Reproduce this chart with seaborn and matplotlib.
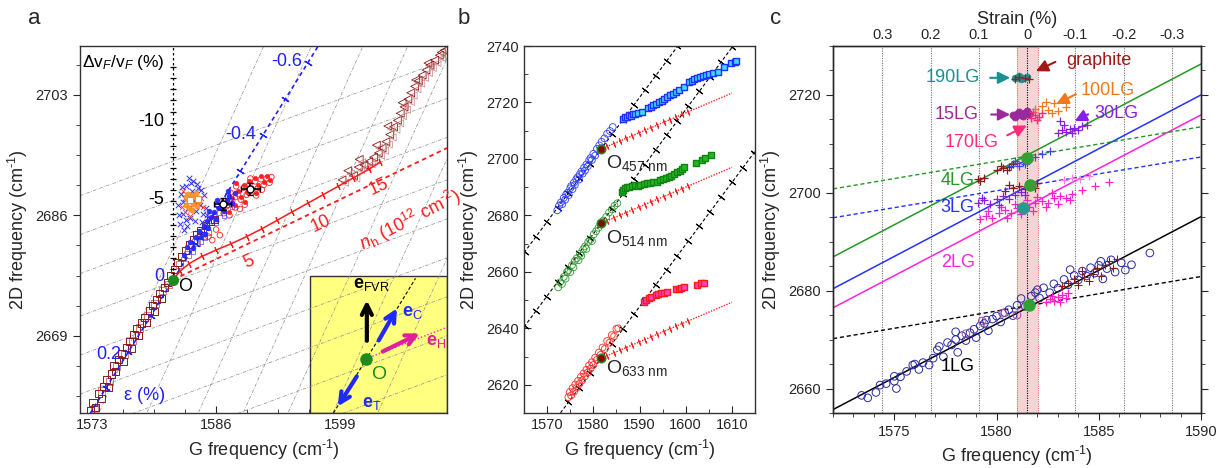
import numpy as np
import matplotlib
matplotlib.use("Agg")
import matplotlib.pyplot as plt
import seaborn as sns
from matplotlib.patches import Rectangle
from matplotlib.ticker import MultipleLocator, AutoMinorLocator, FixedLocator

sns.set_style("ticks")
plt.rcParams['font.family'] = ['Liberation Sans', 'DejaVu Sans']
plt.rcParams['mathtext.fontset'] = 'custom'
plt.rcParams['mathtext.rm'] = 'Liberation Sans'
plt.rcParams['mathtext.it'] = 'Liberation Sans:italic'
plt.rcParams['mathtext.bf'] = 'Liberation Sans:bold'
plt.rcParams['axes.linewidth'] = 1.0
plt.rcParams['axes.unicode_minus'] = False

# ------------------------------------------------------------------ data: panel a
a_origin = (1581.5, 2676.9)
a_sq_dark_G = [1572.8,1573.1,1573.4,1573.7,1574.0,1574.2,1574.5,1574.7,1575.0,1575.3,1575.5,1575.8,1576.1,1576.3,1576.6,1576.9,1577.1,1577.4,1577.7,1577.9,1578.2,1578.5,1578.7,1579.0,1579.3,1579.5,1579.8,1580.1,1580.3,1580.6,1580.9,1581.2,1581.6,1582.0,1582.4,1582.8,1583.2,1583.6,1584.0,1584.4,1584.9,1585.4,1585.8]
a_sq_dark_D = [2658.4,2659.6,2658.9,2660.8,2660.1,2661.9,2662.8,2661.7,2663.6,2664.8,2663.9,2665.6,2666.5,2665.4,2667.3,2668.2,2667.2,2669.2,2670.0,2669.0,2670.8,2671.6,2670.9,2672.6,2673.3,2672.4,2674.1,2675.0,2674.2,2675.8,2676.5,2677.5,2678.4,2679.4,2680.2,2681.0,2681.9,2682.6,2683.3,2683.9,2684.6,2685.2,2685.4]
a_sq_light_G = [1573.3,1574.0,1574.8,1575.6,1576.4,1577.2,1578.0,1578.8,1579.6,1580.4,1581.0,1582.2,1583.0,1583.9,1584.7]
a_sq_light_D = [2658.7,2661.2,2662.6,2664.6,2666.3,2668.3,2670.1,2671.8,2673.6,2675.4,2676.2,2679.0,2680.5,2682.2,2683.2]
a_tri_G = [1599.2,1599.8,1600.4,1600.9,1601.5,1602.0,1602.5,1603.0,1603.4,1603.8,1604.2,1604.6,1605.0,1605.3,1605.7,1606.1,1606.4,1606.8,1607.2,1607.6,1608.0,1608.4,1608.9,1609.4,1609.9,1601.0,1602.8,1604.0,1605.5,1606.9,1608.2,1609.6]
a_tri_D = [2691.0,2692.3,2691.6,2692.8,2693.1,2693.6,2694.2,2694.8,2695.5,2696.4,2697.4,2698.5,2699.4,2700.4,2701.3,2702.4,2703.3,2704.2,2705.0,2705.8,2706.5,2707.2,2707.9,2708.6,2709.3,2693.9,2695.9,2698.6,2701.9,2705.1,2707.5,2709.0]
a_bluex_G = [1582.0,1582.3,1582.5,1582.7,1582.9,1583.1,1583.3,1583.5,1583.7,1583.9,1584.1,1584.3,1584.5,1584.7,1582.2,1582.6,1583.0,1583.4,1584.0,1584.6,1582.4,1583.8,1582.1,1582.8,1583.6,1584.4,1584.9,1585.1,1583.2,1582.5]
a_bluex_D = [2687.5,2689.0,2686.2,2688.4,2690.2,2687.0,2685.6,2689.4,2688.0,2686.6,2689.8,2687.5,2685.0,2688.8,2684.8,2683.9,2684.5,2690.6,2690.4,2686.2,2690.0,2685.2,2686.0,2685.3,2690.9,2689.6,2687.0,2686.0,2691.2,2687.9]
a_bluel_G = [1582.6,1583.0,1583.3,1583.6,1583.9,1584.2,1584.4,1584.7,1585.0,1585.2,1585.5,1585.8,1586.0,1586.3,1586.6,1586.8,1587.1,1587.4,1587.7,1588.0,1585.3,1584.8,1586.1,1587.2]
a_bluel_D = [2680.4,2681.5,2682.3,2681.4,2683.0,2683.8,2682.9,2684.5,2685.2,2684.2,2685.8,2686.5,2685.5,2687.0,2687.6,2686.6,2688.1,2688.7,2687.8,2689.2,2686.6,2683.4,2688.2,2689.4]
a_redc_G = [1586.8,1587.1,1587.4,1587.7,1588.0,1588.3,1588.6,1588.9,1589.2,1589.5,1589.8,1590.1,1590.4,1590.7,1591.0,1591.3,1591.6,1588.1,1589.0,1590.2,1587.5,1586.5,1591.8,1589.6,1588.5,1590.8,1585.2,1586.0,1586.4,1585.6]
a_redc_D = [2686.3,2687.3,2686.0,2688.0,2687.1,2689.0,2688.2,2689.9,2688.9,2690.4,2689.4,2690.8,2689.9,2691.1,2690.3,2691.2,2690.6,2690.1,2687.5,2688.8,2689.2,2687.8,2691.4,2691.2,2686.9,2689.6,2683.0,2684.0,2683.2,2682.5]
a_orange_G = [1582.8,1583.0,1583.2,1583.4,1583.6,1583.8,1584.0,1584.2,1583.1,1583.5,1583.9,1582.9]
a_orange_D = [2687.4,2688.3,2687.0,2688.8,2687.6,2688.6,2687.3,2688.0,2689.0,2686.8,2689.2,2688.6]
a_redx_G = [1582.4,1582.7,1584.4,1583.3,1582.5,1584.6]
a_redx_D = [2687.2,2686.4,2688.5,2685.9,2689.4,2687.2]
a_mean_G = [1586.7, 1589.6]
a_mean_D = [2687.6, 2689.7]
a_mean_Gerr = [0.9, 1.0]
a_mean_Derr = [0.9, 0.9]
a_msq_G = [1583.3, 1584.1]
a_msq_D = [2688.1, 2688.3]
# model lines of panel a
a_strain_slope = 2.17
a_strain_ticks = [0.3, 0.2, 0.1, 0.0, -0.1, -0.2, -0.3, -0.4, -0.5, -0.6]
a_strain_G_per_pct = 23.5
a_dop_G = [1581.5,1582.2,1583.2,1584.5,1586.0,1587.6,1589.2,1590.8,1592.4,1594.0,1595.6,1597.2,1598.8,1600.4,1602.0,1603.2]
a_dop_D = [2676.9,2678.1,2679.2,2680.2,2681.1,2682.0,2683.0,2684.1,2685.3,2686.5,2687.7,2688.9,2690.1,2691.3,2692.5,2693.5]
a_dop_lin_end = (1610.2, 2695.5)
a_vf_ticks = [0,-0.7,-1.4,-2.1,-2.8,-3.5,-4.2,-5,-5.7,-6.4,-7.1,-7.8,-8.5,-9.2,-10,-10.7,-11.4,-12.1,-12.8,-13.5]
a_vf_scale = 2.22
a_grid_steep_top = [1591.0, 1596.0, 1601.4, 1606.1, 1610.8, 1615.5, 1620.2]
a_grid_steep_slope = 3.0
a_grid_low_right = [2708.0, 2702.5, 2697.0, 2691.0, 2685.5, 2680.0, 2674.5, 2669.0, 2663.5]
a_grid_low_slope = 0.5

# ------------------------------------------------------------------ data: panel b
b_O_G = [1581.7, 1581.7, 1581.7]
b_O_D = [2703.5, 2677.2, 2629.4]
b_O_labels = ["457 nm", "514 nm", "633 nm"]
b_O_label_D = [2698.5, 2672.0, 2626.0]
b_strain_slope = 2.2
b_dop_slope = 0.70
b457c_G = [1572.2,1572.6,1573.0,1573.3,1573.6,1573.9,1574.1,1574.4,1574.7,1575.0,1575.2,1575.5,1575.8,1576.0,1576.3,1576.6,1576.9,1577.1,1577.4,1577.7,1578.0,1578.2,1578.5,1578.8,1579.1,1579.4,1579.7,1580.0,1580.4,1580.8,1581.3,1581.8,1582.4,1583.0,1583.6,1584.2]
b457c_D = [2681.8,2683.5,2684.6,2684.0,2686.2,2685.5,2687.4,2688.0,2687.2,2689.6,2690.4,2689.3,2691.6,2690.8,2692.8,2693.5,2692.7,2694.6,2695.5,2694.8,2696.9,2695.9,2698.0,2697.4,2699.5,2700.3,2699.6,2701.8,2701.2,2703.6,2704.8,2706.1,2707.3,2708.9,2709.9,2711.3]
b457s_G = [1586.5,1586.9,1587.3,1587.7,1588.1,1588.6,1589.1,1589.7,1590.6,1591.8,1592.4,1593.0,1593.6,1594.2,1594.8,1595.4,1596.0,1596.6,1597.2,1597.8,1598.5,1599.6,1600.7,1601.3,1601.9,1602.5,1603.1,1603.7,1604.4,1605.1,1605.9,1606.9,1608.3,1609.8,1610.6,1610.9]
b457s_D = [2714.3,2714.9,2715.0,2715.5,2715.3,2715.9,2716.0,2716.4,2716.7,2718.0,2718.3,2719.2,2719.5,2720.3,2720.6,2721.4,2721.8,2722.5,2722.9,2723.6,2724.4,2725.6,2727.3,2727.6,2728.2,2728.5,2729.1,2729.3,2729.8,2730.1,2730.4,2730.9,2732.7,2733.9,2734.3,2734.8]
b514c_G = [1572.4,1572.8,1573.2,1573.6,1574.0,1574.3,1574.6,1575.0,1575.4,1575.7,1576.0,1576.4,1576.8,1577.1,1577.4,1577.8,1578.2,1578.5,1578.9,1579.3,1579.7,1580.1,1580.6,1581.1,1581.6,1582.2,1582.8,1583.4,1584.0,1584.6,1585.2]
b514c_D = [2654.5,2656.3,2655.7,2658.2,2657.6,2659.9,2660.6,2659.9,2662.4,2661.6,2663.9,2664.8,2664.1,2666.4,2665.7,2668.0,2669.0,2668.1,2670.6,2671.4,2670.9,2673.3,2674.4,2675.6,2676.9,2678.2,2679.5,2681.0,2682.1,2683.4,2684.3]
b514s_G = [1586.2,1586.5,1586.9,1587.3,1587.8,1588.4,1589.0,1589.6,1590.2,1590.9,1591.6,1592.3,1593.0,1593.7,1594.4,1595.1,1595.7,1596.3,1596.9,1597.5,1598.1,1598.7,1599.3,1599.6,1602.2,1603.6,1604.1,1605.4]
b514s_D = [2688.3,2689.0,2689.6,2690.1,2690.2,2690.4,2690.6,2690.5,2690.7,2691.2,2691.3,2691.5,2691.9,2692.0,2692.4,2692.8,2693.3,2693.6,2694.1,2694.5,2695.2,2695.8,2696.6,2697.2,2698.4,2699.6,2700.4,2701.3]
b633c_G = [1574.6,1574.9,1575.2,1575.5,1575.8,1576.1,1576.4,1576.7,1577.0,1577.3,1577.6,1577.9,1578.2,1578.5,1578.8,1579.1,1579.4,1579.7,1580.0,1580.4,1580.8,1581.2,1581.6,1582.0,1582.5,1583.0,1583.5,1584.0,1584.5,1585.0,1585.4]
b633c_D = [2615.6,2617.4,2616.2,2618.8,2617.5,2620.1,2618.9,2621.4,2620.3,2622.8,2621.6,2624.0,2623.0,2625.3,2624.3,2626.9,2625.7,2628.0,2627.0,2629.6,2628.8,2631.4,2630.6,2633.2,2632.7,2635.5,2634.9,2637.6,2637.2,2639.8,2640.0]
b633s_G = [1590.9,1591.3,1592.0,1592.5,1593.5,1594.0,1594.6,1595.2,1596.0,1598.0,1598.5,1599.0,1599.6,1602.5,1603.4,1603.9]
b633s_D = [2649.3,2649.9,2650.6,2651.0,2651.7,2652.0,2652.4,2652.4,2652.9,2653.8,2654.1,2654.3,2654.6,2655.3,2655.9,2656.1]

# ------------------------------------------------------------------ data: panel c
c_strain_ticks = [0.3, 0.2, 0.1, 0.0, -0.1, -0.2, -0.3]
c_strain_labels = ["0.3", "0.2", "0.1", "0", "-0.1", "-0.2", "-0.3"]
c_G0, c_G_per_pct = 1581.5, 23.6
c_band = (1581.0, 1582.05)
c_solid_names = ["1LG", "2LG", "3LG", "4LG"]
c_solid_int = [2655.7, 2676.5, 2680.4, 2686.9]   # value at G = 1572
c_solid_slope = [2.19, 2.19, 2.2, 2.19]
c_solid_col = ["black", "#ff22dd", "#2233ff", "#229922"]
c_dash_int = [2670.2, 2694.9, 2700.8]
c_dash_slope = [0.705, 0.69, 0.705]
c_dash_col = ["black", "#2233ff", "#229922"]
c_dots_G = [1581.6, 1581.3, 1581.66, 1581.5]
c_dots_D = [2677.0, 2696.9, 2701.6, 2707.1]
c_dots_col = ["#33a033", "#2a9a8a", "#33a033", "#33a033"]
c1_G = [1573.4,1573.7,1574.1,1574.3,1574.6,1575.0,1575.1,1575.3,1575.6,1575.9,1576.2,1576.4,1576.7,1576.9,1577.1,1577.2,1577.4,1577.6,1577.8,1578.0,1578.1,1578.3,1578.5,1578.7,1578.9,1579.0,1579.2,1579.4,1579.6,1579.8,1580.0,1580.2,1580.4,1580.6,1580.8,1581.0,1581.2,1581.4,1581.7,1581.9,1582.1,1582.3,1582.6,1582.8,1583.0,1583.3,1583.5,1583.8,1584.0,1584.2,1584.4,1584.6,1584.8,1585.0,1585.2,1585.4,1585.6,1585.8,1586.1,1586.3,1586.6,1587.5,1575.0,1578.0,1576.0,1579.5,1582.0,1583.6,1585.1]
c1_D = [2658.6,2658.1,2659.2,2660.7,2661.0,2661.5,2660.0,2662.4,2663.5,2664.8,2663.9,2665.3,2664.8,2666.2,2667.9,2668.6,2666.5,2669.4,2668.9,2670.0,2667.4,2670.8,2669.8,2671.4,2672.1,2670.4,2672.8,2673.3,2671.8,2674.2,2674.8,2673.6,2675.5,2676.1,2674.9,2677.0,2678.4,2676.8,2678.9,2679.6,2678.5,2680.6,2679.6,2681.4,2680.5,2682.3,2681.2,2683.1,2682.2,2684.0,2683.0,2684.7,2683.6,2685.2,2682.4,2684.5,2686.3,2683.8,2685.7,2684.2,2685.3,2687.7,2662.5,2671.6,2665.0,2674.0,2680.2,2684.3,2686.0]
c1m_G = [1578.5, 1580.3, 1581.0, 1579.3]
c1m_D = [2671.2, 2675.4, 2675.0, 2673.8]
c1r_G = [1583.5,1583.8,1584.0,1584.3,1584.5,1584.7,1584.9,1585.1,1585.3,1585.5,1585.7,1585.9,1584.2,1583.2]
c1r_D = [2681.5,2682.3,2681.2,2682.8,2681.9,2683.5,2684.6,2683.0,2685.2,2686.0,2684.6,2686.4,2684.0,2681.0]
c1p_G = [1582.4,1582.6,1582.8,1583.0,1583.2,1583.4,1582.7,1583.1,1583.5]
c1p_D = [2677.6,2678.3,2677.9,2678.7,2679.2,2678.5,2679.0,2677.6,2679.6]
c2_G = [1579.2,1579.5,1579.8,1580.1,1580.4,1580.7,1581.0,1581.3,1581.6,1581.9,1582.2,1582.5,1582.8,1583.1,1583.4,1583.7,1579.6,1580.2,1580.9,1581.5,1582.0,1582.7,1580.5,1581.2,1581.8,1582.4,1583.0,1583.6,1584.2,1584.8,1585.5]
c2_D = [2694.6,2695.3,2694.9,2695.8,2696.4,2695.9,2696.9,2697.5,2697.0,2698.0,2698.4,2698.0,2698.9,2699.4,2699.0,2699.8,2696.2,2697.0,2697.8,2698.5,2699.2,2700.0,2694.8,2695.6,2696.2,2697.2,2697.8,2698.5,2700.6,2701.4,2702.2]
c3p_G = [1579.1,1579.4,1579.7,1580.0,1580.3,1580.6,1580.9,1581.2,1579.3,1580.1,1581.4]
c3p_D = [2697.9,2698.5,2697.8,2698.8,2699.3,2698.7,2699.6,2700.1,2699.0,2697.6,2699.5]
c3r_G = [1580.4,1580.8,1581.1,1581.4,1581.7,1582.0,1580.6,1581.9]
c3r_D = [2700.3,2700.9,2701.3,2700.8,2701.6,2702.0,2701.5,2701.0]
c3k_G = [1583.3,1583.7,1584.1,1584.5]
c3k_D = [2702.6,2703.1,2702.8,2703.4]
c4r_G = [1579.1,1579.4,1579.2,1580.0,1580.3,1580.6,1580.2,1580.8,1580.5]
c4r_D = [2702.8,2703.0,2702.4,2704.7,2705.0,2705.3,2705.5,2705.8,2704.6]
c4b_G = [1580.7,1581.0,1581.3,1581.6,1581.9,1582.2,1582.6,1581.1,1581.5,1580.9,1581.4]
c4b_D = [2705.4,2706.0,2706.3,2706.8,2707.4,2708.0,2708.6,2705.5,2707.2,2706.4,2705.8]
c30_G = [1583.0,1583.2,1583.4,1583.6,1583.8,1584.0,1584.2,1584.4,1583.3,1583.1,1583.7]
c30_D = [2712.3,2712.8,2712.4,2713.0,2713.3,2712.9,2713.6,2713.8,2713.9,2714.6,2712.2]
c15_G = [1580.8,1581.0,1581.2,1581.4,1581.6,1581.1,1580.9,1581.3,1581.5]
c15_D = [2715.8,2716.2,2715.9,2716.4,2716.1,2716.6,2715.5,2715.6,2716.7]
c170_G = [1581.7,1581.9,1582.1,1581.8,1582.0,1582.2]
c170_D = [2715.2,2716.0,2715.5,2716.6,2714.9,2716.3]
c100_G = [1581.9,1582.2,1582.5,1582.8,1582.4,1583.0,1583.4,1582.7]
c100_D = [2717.2,2717.8,2717.0,2718.3,2718.6,2716.8,2717.5,2716.3]
c190_G = [1580.9,1581.1,1581.3,1581.5,1581.2]
c190_D = [2723.5,2723.8,2723.4,2723.7,2723.2]
cgr_G = [1580.9,1581.1,1581.4,1581.6]
cgr_D = [2723.3,2723.6,2723.5,2723.2]
# annotation labels: text, color, text pos, arrow tail, arrow head, ha
c_ann = [
    ("graphite", "#a01818", (1583.4, 2727.1), (1583.0, 2727.0), (1581.8, 2724.6), "left"),
    ("190LG", "#1a9090", (1579.2, 2723.5), (1579.55, 2723.5), (1580.8, 2723.5), "right"),
    ("100LG", "#f07818", (1584.1, 2721.0), (1584.0, 2720.4), (1582.8, 2717.9), "left"),
    ("15LG", "#9a2a9a", (1579.1, 2716.0), (1579.6, 2716.0), (1580.8, 2716.0), "right"),
    ("30LG", "#8a1ee0", (1584.8, 2716.3), (1584.6, 2716.3), (1583.7, 2714.4), "left"),
    ("170LG", "#ff2a7a", (1578.8, 2710.2), (1580.4, 2711.5), (1581.6, 2714.0), "center"),
]
c_layer_labels = [("4LG", "#229922", 2702.6), ("3LG", "#2233ff", 2697.0),
                  ("2LG", "#ff22dd", 2685.7), ("1LG", "black", 2664.5)]

# ------------------------------------------------------------------ figure
W, H = 1227, 468
fig = plt.figure(figsize=(W / 100, H / 100), dpi=100)
axA = fig.add_axes([80 / W, 55 / H, 367 / W, 367 / H])
axB = fig.add_axes([524 / W, 55 / H, 231 / W, 367 / H])
axC = fig.add_axes([833 / W, 55 / H, 368 / W, 367 / H])

TICK = 10.5
LAB = 13
CM = r"cm$^{\text{-1}}$"


def pts(ax, g, d, marker, color, face="none", s=22, lw=0.6, z=3, alpha=1.0):
    if face == "line":
        sns.scatterplot(x=g, y=d, ax=ax, marker=marker, color=color, s=s,
                        linewidth=lw, legend=False, zorder=z, alpha=alpha)
    else:
        sns.scatterplot(x=g, y=d, ax=ax, marker=marker, color=face,
                        edgecolor=color, s=s, linewidth=lw, legend=False,
                        zorder=z, alpha=alpha)


def style_axes(ax):
    ax.set_xlabel("G frequency (" + CM + ")", fontsize=LAB)
    ax.set_ylabel("2D frequency (" + CM + ")", fontsize=LAB)
    ax.tick_params(labelsize=TICK)
    for sp in ax.spines.values():
        sp.set_visible(True)
        sp.set_color("#333333")


# ================================================================== panel a
ax = axA
xl, yl = (1571.74, 1610.2), (2658.1, 2709.9)
ax.set_xlim(*xl)
ax.set_ylim(*yl)
gx = np.array(xl)
grid_style = dict(color="0.55", lw=0.5, ls=(0, (5, 2, 1, 2)), zorder=1.5)
for gt in a_grid_steep_top:
    ax.plot(gx, yl[1] + a_grid_steep_slope * (gx - gt), **grid_style)
for c in a_grid_low_right:
    ax.plot(gx, c + a_grid_low_slope * (gx - xl[1]), **grid_style)

# inset (yellow box)
ax.add_patch(Rectangle((0.627, 0.0), 0.373, 0.372, transform=ax.transAxes,
                       facecolor="#ffff80", edgecolor="#333333", lw=1.0, zorder=1))

# strain line (blue)
G0, D0 = a_origin
sg = np.array([1572.8, 1596.7])
ax.plot(sg, D0 + a_strain_slope * (sg - G0), color="#2020ff", ls=(0, (2.5, 2)), lw=1.2, zorder=4)
stg = np.array([G0 - a_strain_G_per_pct * e for e in a_strain_ticks])
ax.plot(stg, D0 + a_strain_slope * (stg - G0), ls="none", marker=(2, 2, 58), ms=6,
        mec="#2020ff", mew=0.9, zorder=4)
# doping lines (red)
ax.plot([G0, a_dop_lin_end[0]], [D0, a_dop_lin_end[1]], color="#ff1a1a", ls=(0, (2.5, 2)), lw=1.3, zorder=4)
ax.plot(a_dop_G, a_dop_D, color="#ff1a1a", lw=1.1, marker=(2, 2, 27), ms=5, mec="#ff1a1a",
        mew=0.8, zorder=4)
# Fermi velocity axis
ax.plot([G0, G0], [D0, yl[1]], color="black", ls=(0, (2, 2)), lw=0.9, zorder=4)
vt = [D0 - a_vf_scale * v for v in a_vf_ticks]
ax.plot([G0] * len(vt), vt, ls="none", marker="_", ms=5, mec="black", mew=0.9, zorder=4)

# data
pts(ax, a_sq_light_G, a_sq_light_D, "s", "#c88080", s=26, lw=0.7)
pts(ax, a_sq_dark_G, a_sq_dark_D, "s", "#8b1a1a", s=26, lw=0.7)
pts(ax, a_tri_G, a_tri_D, "<", "#8b1a1a", s=32, lw=0.6)
pts(ax, [g + 0.3 for g in a_tri_G], [d - 0.4 for d in a_tri_D], "<", "#c88080", s=26, lw=0.5)
pts(ax, a_redc_G, a_redc_D, "o", "#ff2020", s=16, lw=0.6)
pts(ax, a_redc_G[:20], [d + 0.4 for d in a_redc_D[:20]], "o", "#ff2020", face="#ff2020", s=10, lw=0.4)
pts(ax, a_bluex_G, a_bluex_D, "x", "#3030ff", face="line", s=16, lw=0.7)
pts(ax, a_bluel_G, a_bluel_D, "o", "#2020ff", face="#3030ff", s=12, lw=0.4)
pts(ax, a_bluel_G, [d - 0.6 for d in a_bluel_D], "s", "#2020ff", s=10, lw=0.4)
pts(ax, a_redx_G, a_redx_D, "x", "#ff3030", face="line", s=14, lw=0.6)
pts(ax, a_orange_G, a_orange_D, "o", "#ff7f0e", face="#ff9a30", s=14, lw=0.4, z=5)
ax.errorbar(a_mean_G, a_mean_D, xerr=a_mean_Gerr, yerr=a_mean_Derr, fmt="o", ms=5,
            mfc="white", mec="black", ecolor="black", elinewidth=1.2, capsize=2.5, zorder=6)
pts(ax, a_msq_G, a_msq_D, "s", "#ff7f0e", face="white", s=14, lw=0.6, z=6)
ax.plot([G0], [D0], "o", color="#1f8a1f", ms=7, zorder=7)

# labels panel a
ax.text(1595.0, 2707.7, "-0.6", color="#2020ff", fontsize=LAB, ha="right", va="center")
ax.text(1590.2, 2697.4, "-0.4", color="#2020ff", fontsize=LAB, ha="right", va="center")
ax.text(1580.6, 2677.3, "0", color="#2020ff", fontsize=LAB, ha="right", va="center")
ax.text(1576.1, 2666.4, "0.2", color="#2020ff", fontsize=LAB, ha="right", va="center")
ax.text(1576.3, 2660.5, "ε (%)", color="#2020ff", fontsize=LAB, ha="left", va="center")
ax.text(1582.0, 2675.9, "O", color="black", fontsize=LAB, ha="left", va="center")
ax.text(1580.6, 2688.2, "-5", color="black", fontsize=LAB, ha="right", va="center")
ax.text(1580.6, 2699.2, "-10", color="black", fontsize=LAB, ha="right", va="center")
ax.text(1580.6, 2707.6, "Δv$_F$/v$_F$ (%)", color="black", fontsize=LAB - 0.5, ha="right", va="center")
ax.text(1589.4, 2679.4, "5", color="#ff1a1a", fontsize=LAB, ha="center", va="center", rotation=25)
ax.text(1597.0, 2684.8, "10", color="#ff1a1a", fontsize=LAB, ha="center", va="center", rotation=25)
ax.text(1603.0, 2690.0, "15", color="#ff1a1a", fontsize=LAB, ha="center", va="center", rotation=25)
ax.text(1606.3, 2685.4, r"$\mathit{n}_{\rm h}$ (10$^{12}$ cm$^{\text{-2}}$)", color="#ff1a1a",
        fontsize=LAB, ha="center", va="center", rotation=27)
# inset arrows
Oi = (1601.7, 2665.75)
ax.plot([1598.3, 1606.9], [2658.1, 2677.1], color="black", ls=(0, (3, 2)), lw=0.8, zorder=4)
ax.plot([Oi[0], 1610.2], [Oi[1], 2670.2], color="#ff22cc", ls=(0, (1, 1.5)), lw=1.0, zorder=4)
arr = dict(arrowstyle="->", lw=3.0, mutation_scale=18)
ax.annotate("", xy=(1601.8, 2674.4), xytext=(1601.8, 2667.9), arrowprops=dict(color="black", **arr), zorder=6)
ax.annotate("", xy=(1605.1, 2673.2), xytext=(1602.9, 2668.0), arrowprops=dict(color="#1e28ff", **arr), zorder=6)
ax.annotate("", xy=(1607.6, 2669.5), xytext=(1603.2, 2666.6), arrowprops=dict(color="#e0209a", **arr), zorder=6)
ax.annotate("", xy=(1598.6, 2658.7), xytext=(1600.9, 2663.6), arrowprops=dict(color="#1e28ff", **arr), zorder=6)
ax.plot([Oi[0]], [Oi[1]], "o", color="#1f8a1f", ms=8, zorder=7)
ax.text(1600.3, 2676.3, r"$\mathbf{e}_{\rm FVR}$", fontsize=LAB, color="black", ha="left", va="center")
ax.text(1605.5, 2672.3, r"$\mathbf{e}_{\rm C}$", fontsize=LAB, color="#1e28ff", ha="left", va="center")
ax.text(1608.0, 2668.2, r"$\mathbf{e}_{\rm H}$", fontsize=LAB, color="#e0209a", ha="left", va="center")
ax.text(1601.3, 2659.4, r"$\mathbf{e}_{\rm T}$", fontsize=LAB, color="#1e28ff", ha="left", va="center")
ax.text(1602.3, 2663.6, "O", fontsize=LAB + 1, color="#1f8a1f", ha="left", va="center")

style_axes(ax)
ax.set_xticks([1573, 1586, 1599])
ax.set_yticks([2669, 2686, 2703])
ax.xaxis.set_minor_locator(AutoMinorLocator(4))
ax.yaxis.set_minor_locator(AutoMinorLocator(4))
ax.tick_params(axis="x", which="both", direction="in", top=False)
ax.tick_params(axis="y", which="both", direction="out", right=False)
ax.tick_params(which="major", length=5)
ax.tick_params(which="minor", length=3)

# ================================================================== panel b
ax = axB
xl, yl = (1565, 1615), (2610, 2740)
ax.set_xlim(*xl)
ax.set_ylim(*yl)
gx = np.linspace(xl[0], xl[1], 2)
for og, od in zip(b_O_G, b_O_D):
    ax.plot(gx, od + b_strain_slope * (gx - og), color="black", ls=(0, (3, 2)), lw=0.8, zorder=2)
    tk = np.array([og + 2.36 * k for k in range(-8, 15)])
    tv = od + b_strain_slope * (tk - og)
    m = (tv > yl[0]) & (tv < yl[1]) & (tk > xl[0]) & (tk < xl[1])
    ax.plot(tk[m], tv[m], ls="none", marker=(2, 2, 53), ms=6, mec="black", mew=0.8, zorder=2)
    dg = np.array([og, 1610.0])
    ax.plot(dg, od + b_dop_slope * (dg - og), color="#ff2020", ls=(0, (1, 1)), lw=1.0, zorder=2)
    dk = np.array([og + 1.35 * k for k in range(1, 15)])
    ax.plot(dk, od + b_dop_slope * (dk - og), ls="none", marker=(2, 2, 23), ms=4.5, mec="#ff2020",
            mew=0.8, zorder=2)

pts(ax, b457c_G, b457c_D, "o", "#3040ff", s=24, lw=0.6)
pts(ax, b514c_G, b514c_D, "o", "#2e9a2e", s=24, lw=0.6)
pts(ax, b633c_G, b633c_D, "o", "#ff2a2a", s=24, lw=0.6)
pts(ax, b457s_G, b457s_D, "s", "#1e30ff", face="#40d8ff", s=22, lw=1.0)
pts(ax, b514s_G, b514s_D, "s", "#128212", face="#22b822", s=22, lw=1.0)
pts(ax, b633s_G, b633s_D, "s", "#ff1a1a", face="#ff40c0", s=22, lw=1.0)
sns.scatterplot(x=b_O_G, y=b_O_D, ax=ax, color="#8b0000", edgecolor="#1f8a1f", s=36,
                linewidth=1.2, legend=False, zorder=6)
for lab, ld in zip(b_O_labels, b_O_label_D):
    ax.text(1582.8, ld, "O$_{\\rm " + lab.replace(" ", "\\ ") + "}$", fontsize=LAB + 1,
            ha="left", va="center")

style_axes(ax)
ax.set_xticks([1570, 1580, 1590, 1600, 1610])
ax.set_yticks([2620, 2640, 2660, 2680, 2700, 2720, 2740])
ax.xaxis.set_minor_locator(MultipleLocator(5))
ax.yaxis.set_minor_locator(MultipleLocator(10))
ax.tick_params(which="both", direction="in", top=False, right=False)
ax.tick_params(which="major", length=5)
ax.tick_params(which="minor", length=3)

# ================================================================== panel c
ax = axC
xl, yl = (1572, 1590), (2655, 2730)
ax.set_xlim(*xl)
ax.set_ylim(*yl)
ax.axvspan(c_band[0], c_band[1], color="#f4d4d4", zorder=0.5, lw=0)
for b in c_band:
    ax.axvline(b, color="#ff6060", ls=(0, (1, 1)), lw=0.8, zorder=0.6)
strain_pos = [c_G0 - c_G_per_pct * s for s in c_strain_ticks]
for s, p in zip(c_strain_ticks, strain_pos):
    ax.axvline(p, color="black" if s == 0 else "0.45", ls=(0, (1, 1.2)), lw=0.8, zorder=0.7)

gx = np.array(xl)
for a0, sl, col in zip(c_solid_int, c_solid_slope, c_solid_col):
    ax.plot(gx, a0 + sl * (gx - xl[0]), color=col, lw=1.1, zorder=2)
for a0, sl, col in zip(c_dash_int, c_dash_slope, c_dash_col):
    ax.plot(gx, a0 + sl * (gx - xl[0]), color=col, lw=1.0, ls=(0, (3, 2)), zorder=2)

pts(ax, c1_G, c1_D, "o", "#2a2aa0", s=30, lw=0.7)
pts(ax, c1m_G, c1m_D, "o", "#b0409a", s=30, lw=0.7)
pts(ax, c1r_G, c1r_D, "+", "#8b1a1a", face="line", s=30, lw=0.8)
pts(ax, c1p_G, c1p_D, "+", "#ff20d0", face="line", s=30, lw=0.9)
pts(ax, c2_G, c2_D, "+", "#ff20d0", face="line", s=30, lw=0.9)
pts(ax, c3p_G, c3p_D, "+", "#8a1ee0", face="line", s=30, lw=0.9)
pts(ax, c3r_G, c3r_D, "+", "#8b1a1a", face="line", s=30, lw=0.9)
pts(ax, c3k_G, c3k_D, "+", "#ff80e0", face="line", s=30, lw=0.9)
pts(ax, c4r_G, c4r_D, "+", "#8b1a1a", face="line", s=30, lw=0.9)
pts(ax, c4b_G, c4b_D, "+", "#4040ff", face="line", s=30, lw=0.9)
pts(ax, c30_G, c30_D, "+", "#8a1ee0", face="line", s=30, lw=0.9)
pts(ax, c15_G, c15_D, "o", "#9a2a9a", face="#9a2a9a", s=26, lw=0.5)
pts(ax, c170_G, c170_D, "+", "#ff2a7a", face="line", s=30, lw=1.0)
pts(ax, c100_G, c100_D, "+", "#f07818", face="line", s=30, lw=0.9)
pts(ax, c190_G, c190_D, "o", "#1a9090", face="#1a9090", s=24, lw=0.5)
pts(ax, cgr_G, cgr_D, "+", "#a01818", face="line", s=28, lw=0.9)
for g, d, col in zip(c_dots_G, c_dots_D, c_dots_col):
    ax.plot([g], [d], "o", color=col, ms=8, zorder=6)

for txt, col, tp, tail, head, ha in c_ann:
    ax.text(tp[0], tp[1], txt, color=col, fontsize=LAB, ha=ha, va="center", zorder=7)
    ax.annotate("", xy=head, xytext=tail,
                arrowprops=dict(arrowstyle="-|>", color=col, lw=1.5, mutation_scale=18), zorder=7)
for txt, col, d in c_layer_labels:
    ax.text(1578.1, d, txt, color=col, fontsize=LAB, ha="center", va="center", zorder=7)

style_axes(ax)
ax.set_xticks([1575, 1580, 1585, 1590])
ax.set_yticks([2660, 2680, 2700, 2720])
ax.xaxis.set_minor_locator(MultipleLocator(1))
ax.yaxis.set_minor_locator(MultipleLocator(5))
ax.tick_params(which="both", direction="out", top=False)
ax.tick_params(axis="y", which="both", right=True, direction="out")
ax.tick_params(which="major", length=5)
ax.tick_params(which="minor", length=3)
axT = ax.twiny()
axT.set_xlim(*xl)
axT.xaxis.set_major_locator(FixedLocator(strain_pos))
axT.set_xticklabels(c_strain_labels, fontsize=TICK)
axT.tick_params(axis="x", length=0, pad=3)
axT.set_xlabel("Strain (%)", fontsize=LAB, labelpad=3)

# panel letters
fig.text(28 / W, 1 - 18 / H, "a", fontsize=16, ha="left", va="center")
fig.text(458 / W, 1 - 18 / H, "b", fontsize=16, ha="left", va="center")
fig.text(770 / W, 1 - 18 / H, "c", fontsize=16, ha="left", va="center")

fig.savefig("out.png", dpi=100)
